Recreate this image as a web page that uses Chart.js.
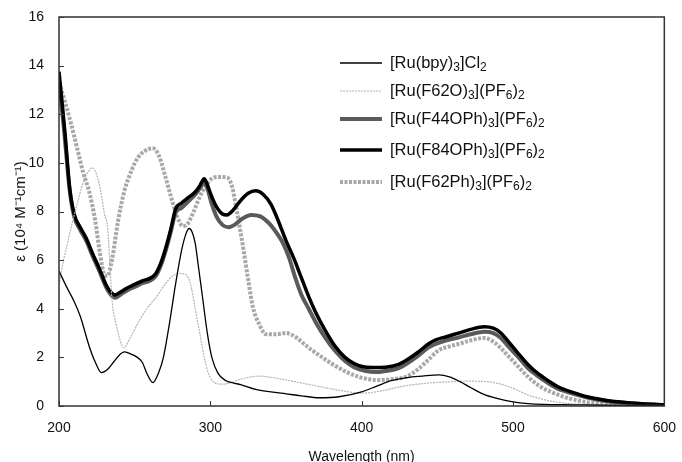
<!DOCTYPE html>
<html>
<head>
<meta charset="utf-8">
<script src="https://cdn.jsdelivr.net/npm/chart.js@4.4.1/dist/chart.umd.min.js"></script>
<style>
  html, body { margin: 0; padding: 0; background: #fff; }
  #wrap { position: relative; width: 682px; height: 462px; }
</style>
</head>
<body>
<div id="wrap"><canvas id="spectraChart"></canvas></div>
<script>
/* ======================================================
   DATA  (wavelength in nm, epsilon in 10^4 M-1 cm-1)
====================================================== */

const seriesLabels = [
  "[Ru(bpy)_3]Cl_2",
  "[Ru(F62O)_3](PF_6)_2",
  "[Ru(F44OPh)_3](PF_6)_2",
  "[Ru(F84OPh)_3](PF_6)_2",
  "[Ru(F62Ph)_3](PF_6)_2"
];

const xTicks = [200, 300, 400, 500, 600];
const yTicks = [0, 2, 4, 6, 8, 10, 12, 14, 16];

const bpyWl = [200, 205, 210, 214, 220, 224, 228, 232, 236, 240, 243, 247, 251, 255, 258, 262, 266, 269, 273, 277,
  281, 284, 286, 288, 290, 292, 295, 298, 301, 305, 310, 315, 320, 330, 340, 350, 360, 372, 385, 400,
  410, 420, 430, 440, 451, 458, 465, 472, 480, 490, 500, 510, 520, 540, 560, 600];
const bpyEps = [5.55, 4.9, 4.3, 3.7, 2.45, 1.8, 1.37, 1.5, 1.8, 2.1, 2.23, 2.15, 2.03, 1.8, 1.35, 0.96, 1.4, 2.0, 3.4, 5.0,
  6.4, 7.1, 7.3, 7.15, 6.7, 5.8, 4.4, 3.0, 2.0, 1.35, 1.05, 0.95, 0.88, 0.68, 0.58, 0.5, 0.42, 0.34, 0.38, 0.58,
  0.82, 1.05, 1.17, 1.23, 1.28, 1.2, 1.0, 0.76, 0.5, 0.3, 0.17, 0.1, 0.07, 0.05, 0.03, 0.02];

const f62oWl = [200, 203, 206, 209, 212, 216, 219, 222, 225, 228, 230, 232, 233.5, 235, 238, 243, 247, 253, 258, 264,
  270, 275, 280, 284, 287, 290, 293, 296, 299, 303, 308, 313, 320, 332, 340, 350, 360, 372, 385, 400,
  413, 426, 440, 459, 470, 483, 490, 497, 504, 510, 518, 527, 540, 560, 600];
const f62oEps = [5.0, 6.0, 6.8, 7.6, 8.3, 9.2, 9.6, 9.8, 9.5, 8.7, 7.9, 7.4, 6.0, 4.4, 3.3, 2.4, 2.8, 3.5, 4.0, 4.45,
  5.0, 5.35, 5.45, 5.4, 5.0, 4.0, 3.0, 2.0, 1.3, 0.95, 0.9, 0.95, 1.1, 1.23, 1.18, 1.07, 0.95, 0.8, 0.65, 0.53,
  0.62, 0.8, 0.92, 1.0, 1.02, 1.0, 0.93, 0.8, 0.62, 0.45, 0.3, 0.18, 0.09, 0.05, 0.02];

const f44Wl = [200, 202, 204, 207, 210, 214, 218, 222, 227, 231, 234, 237, 241, 245, 250, 255, 260, 264, 268, 271,
  274, 277, 281, 286, 290, 293, 296, 298, 301, 304, 308, 312, 316, 321, 327, 333, 339, 344, 348, 352,
  356, 360, 365, 370, 376, 382, 389, 395, 402, 410, 417, 424, 430, 437, 444, 449, 456, 464, 472, 481,
  487, 492, 497, 503, 510, 516, 523, 530, 540, 549, 560, 571, 585, 600];
const f44Eps = [13.3, 12.2, 10.9, 8.9, 7.8, 7.25, 6.8, 6.2, 5.5, 4.9, 4.6, 4.45, 4.6, 4.75, 4.9, 5.05, 5.15, 5.35, 5.9, 6.5,
  7.2, 7.95, 8.15, 8.45, 8.7, 8.95, 9.2, 8.95, 8.3, 7.8, 7.45, 7.35, 7.45, 7.7, 7.86, 7.8, 7.5, 7.1, 6.7, 6.1,
  5.3, 4.6, 4.0, 3.4, 2.8, 2.3, 1.85, 1.6, 1.45, 1.4, 1.45, 1.55, 1.75, 2.05, 2.4, 2.55, 2.7, 2.82, 2.95, 3.05,
  3.0, 2.8, 2.45, 2.05, 1.55, 1.25, 0.95, 0.7, 0.5, 0.35, 0.22, 0.14, 0.08, 0.04];

const f84Wl = [200, 202, 204, 207, 210, 214, 218, 222, 227, 231, 234, 237, 241, 245, 250, 255, 260, 264, 268, 271,
  274, 277, 281, 286, 290, 293, 296, 298, 301, 304, 308, 311, 315, 320, 325, 330, 335, 340, 345, 350,
  355, 360, 365, 370, 376, 382, 389, 395, 402, 410, 417, 424, 430, 437, 444, 449, 456, 464, 472, 481,
  487, 492, 497, 503, 510, 516, 523, 530, 540, 549, 560, 571, 585, 600];
const f84Eps = [13.75, 12.5, 11.2, 9.0, 7.9, 7.35, 6.9, 6.3, 5.6, 5.0, 4.7, 4.57, 4.7, 4.85, 5.0, 5.15, 5.25, 5.45, 6.0, 6.6,
  7.3, 8.1, 8.35, 8.6, 8.8, 9.05, 9.35, 9.1, 8.6, 8.2, 7.9, 7.86, 8.05, 8.45, 8.75, 8.85, 8.7, 8.3, 7.6, 6.8,
  6.1, 5.3, 4.5, 3.8, 3.1, 2.5, 2.0, 1.75, 1.6, 1.58, 1.6, 1.7, 1.9, 2.2, 2.55, 2.72, 2.85, 3.0, 3.15, 3.26,
  3.2, 3.0, 2.65, 2.2, 1.7, 1.36, 1.05, 0.78, 0.55, 0.38, 0.25, 0.16, 0.09, 0.05];

const f62phWl = [200, 204, 208, 212, 216, 220, 224, 227, 230, 232, 235, 239, 243, 248, 252, 257, 262, 266, 270, 274,
  278, 282, 285, 289, 293, 297, 301, 306, 311, 314.5, 317, 319, 322, 325, 328, 332, 337, 343, 350, 356,
  362, 367, 374, 380, 390, 398, 405, 411, 420, 429, 437, 444, 451, 458, 464, 472, 481, 488, 495, 503,
  510, 518, 527, 538, 549, 565, 600];
const f62phEps = [13.3, 12.5, 11.6, 10.6, 9.6, 8.8, 7.6, 6.3, 5.4, 5.35, 6.0, 7.6, 8.8, 9.7, 10.2, 10.5, 10.6, 10.3, 9.5, 8.6,
  7.8, 7.4, 7.5, 8.0, 8.6, 9.05, 9.35, 9.42, 9.4, 9.0, 8.2, 7.5, 6.4, 5.2, 4.1, 3.4, 2.95, 2.95, 3.0, 2.85,
  2.55, 2.3, 2.0, 1.75, 1.4, 1.2, 1.1, 1.07, 1.1, 1.2, 1.5, 1.9, 2.3, 2.45, 2.55, 2.7, 2.8, 2.6, 2.18, 1.65,
  1.2, 0.8, 0.53, 0.3, 0.16, 0.08, 0.03];

/* ======================================================
   HELPERS
====================================================== */

function toPoints(wl, eps) {
  return wl.map((w, i) => ({ x: w, y: eps[i] }));
}

// "_" marks the next character as a subscript
function drawRichText(ctx, text, x, y) {
  const parts = text.split("_");
  let cx = x;
  parts.forEach((part, i) => {
    let body = part;
    if (i > 0) {
      ctx.font = "12px 'Liberation Sans', Arial, sans-serif";
      ctx.fillText(part[0], cx, y + 5);
      cx += ctx.measureText(part[0]).width;
      body = part.slice(1);
    }
    ctx.font = "16.5px 'Liberation Sans', Arial, sans-serif";
    ctx.fillText(body, cx, y);
    cx += ctx.measureText(body).width;
  });
}

/* ======================================================
   PLUGINS
====================================================== */

const framePlugin = {
  id: "frame",
  afterDatasetsDraw(chart) {
    const { ctx, chartArea: a, scales: { x, y } } = chart;
    ctx.save();
    ctx.strokeStyle = "#333";
    ctx.lineWidth = 1.5;
    ctx.strokeRect(a.left, a.top, a.right - a.left, a.bottom - a.top);
    ctx.lineWidth = 1;
    ctx.beginPath();
    x.ticks.forEach(t => {
      const px = Math.round(x.getPixelForValue(t.value)) + 0.5;
      ctx.moveTo(px, a.bottom);
      ctx.lineTo(px, a.bottom - 5);
    });
    y.ticks.forEach(t => {
      const py = Math.round(y.getPixelForValue(t.value)) + 0.5;
      ctx.moveTo(a.left, py);
      ctx.lineTo(a.left + 5, py);
    });
    ctx.stroke();
    ctx.restore();
  }
};

const legendRows = [63, 91, 119, 150, 182];

const inlineLegend = {
  id: "inlineLegend",
  afterDraw(chart) {
    const ctx = chart.ctx;
    ctx.save();
    chart.data.datasets.forEach((ds, i) => {
      const yy = legendRows[i];
      ctx.strokeStyle = ds.borderColor;
      ctx.lineWidth = ds.borderWidth;
      ctx.setLineDash(ds.borderDash || []);
      ctx.beginPath();
      ctx.moveTo(340, yy);
      ctx.lineTo(382, yy);
      ctx.stroke();
      ctx.setLineDash([]);
      ctx.fillStyle = "#111";
      ctx.textBaseline = "middle";
      drawRichText(ctx, seriesLabels[i], 390, yy);
    });
    ctx.restore();
  }
};

/* ======================================================
   CHART
====================================================== */

Chart.defaults.font.family = "'Liberation Sans', Arial, sans-serif";
Chart.defaults.color = "#111";

const styles = [
  { color: "#000000", width: 1.3, dash: [], order: 0 },
  { color: "#b4b4b4", width: 1.2, dash: [2, 1], order: 1 },
  { color: "#5a5a5a", width: 4, dash: [], order: 3 },
  { color: "#000000", width: 3.5, dash: [], order: 2 },
  { color: "#a8a8a8", width: 4, dash: [3, 1.5], order: 4 }
];

const seriesData = [
  toPoints(bpyWl, bpyEps),
  toPoints(f62oWl, f62oEps),
  toPoints(f44Wl, f44Eps),
  toPoints(f84Wl, f84Eps),
  toPoints(f62phWl, f62phEps)
];

new Chart(document.getElementById("spectraChart"), {
  type: "line",
  data: {
    datasets: seriesData.map((pts, i) => ({
      label: seriesLabels[i].replace(/_/g, ""),
      data: pts,
      borderColor: styles[i].color,
      borderWidth: styles[i].width,
      borderDash: styles[i].dash,
      order: styles[i].order,
      pointRadius: 0,
      fill: false,
      cubicInterpolationMode: "monotone"
    }))
  },
  options: {
    responsive: true,
    maintainAspectRatio: false,
    animation: false,
    layout: { padding: { top: 17, right: 15, bottom: 0, left: 0 } },
    plugins: {
      legend: { display: false },
      tooltip: { enabled: false }
    },
    scales: {
      x: {
        type: "linear",
        min: 200,
        max: 600,
        afterBuildTicks: s => { s.ticks = xTicks.map(v => ({ value: v })); },
        afterFit: s => { s.height = 56; },
        grid: { display: false },
        border: { display: false },
        ticks: { font: { size: 14 }, padding: 6, maxRotation: 0 },
        title: {
          display: true,
          text: "Wavelength (nm)",
          font: { size: 14 },
          padding: { top: 0, bottom: -4 }
        }
      },
      y: {
        min: 0,
        max: 16,
        afterBuildTicks: s => { s.ticks = yTicks.map(v => ({ value: v })); },
        afterFit: s => { s.width = 59; },
        grid: { display: false },
        border: { display: false },
        ticks: { font: { size: 14 }, padding: 7 },
        title: {
          display: true,
          text: "ε (10⁴ M⁻¹cm⁻¹)",
          font: { size: 15 },
          padding: { top: 12, bottom: 0 }
        }
      }
    }
  },
  plugins: [framePlugin, inlineLegend]
});
</script>
</body>
</html>
